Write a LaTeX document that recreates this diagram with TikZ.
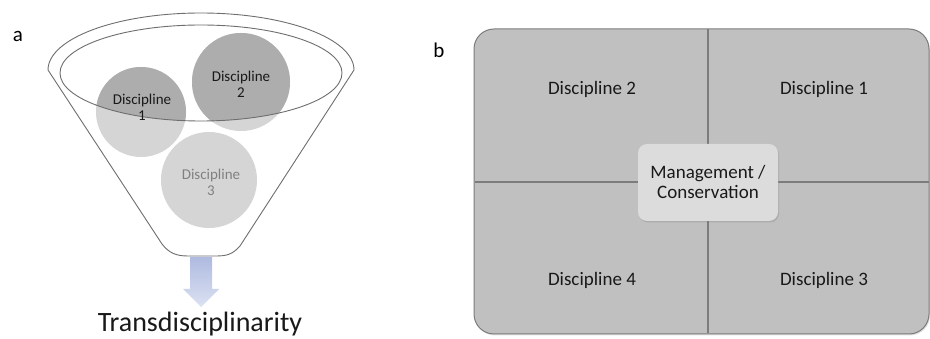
\documentclass[tikz,border=0pt]{standalone}
\usepackage{fontspec}
\setmainfont{Carlito}
\usetikzlibrary{shadows}
\definecolor{edge}{HTML}{6E6E6E}
\definecolor{lightdisc}{HTML}{D5D5D5}
\definecolor{darkdisc}{HTML}{ADADAD}
\definecolor{panel}{HTML}{C0C0C0}
\definecolor{panelborder}{HTML}{7C7C7C}
\definecolor{centerfill}{HTML}{DCDCDC}
\definecolor{arrowtop}{HTML}{AEBAE0}
\definecolor{arrowbot}{HTML}{DCE2F2}
\tikzset{
  disc/.style={circle,inner sep=0pt,minimum size=#1,fill=lightdisc},
  disclabel/.style={align=center,font=\fontsize{15}{16}\selectfont,text=black!90,inner sep=0pt},
  quadlabel/.style={anchor=base,font=\fontsize{19}{21}\selectfont,text=black!90,inner sep=0pt},
  panellabel/.style={anchor=base,font=\fontsize{21}{24}\selectfont,inner sep=0pt},
  divider/.style={draw=panelborder,line width=1.1pt},
}
\begin{document}
\begin{tikzpicture}[x=1pt,y=-1pt]
\useasboundingbox (0,0) rectangle (930,339);

% ---------- panel a ----------
\node[panellabel] (la) at (18,42) {a};

% funnel body
\path[fill=white,draw=edge,line width=0.9pt]
  (48,70) arc[start angle=180,end angle=360,x radius=153,y radius=57]
  -- (240,246) .. controls (232,255) and (226,256) .. (215,256)
  -- (188,256) .. controls (176,256) and (169,253) .. (162,244) -- cycle;

% discs (light parts)
\node[disc=90pt] (d1) at (141,112) {};
\node[disc=98pt] (d2) at (241,82) {};
\node[disc=96pt] (d3) at (209,180) {};

% darker parts inside the inner ellipse
\begin{scope}
  \clip (201,73) ellipse [x radius=141, y radius=48];
  \fill[darkdisc] (141,112) circle[radius=45];
  \fill[darkdisc] (241,82) circle[radius=49];
\end{scope}
\draw[edge,line width=0.9pt] (201,73) ellipse [x radius=141, y radius=48];

\node[disclabel] (t1) at (142,107) {Discipline\\1};
\node[disclabel] (t2) at (241,84) {Discipline\\2};
\node[disclabel,text=black!50] (t3) at (211,182) {Discipline\\3};

% arrow
\path[top color=arrowtop,bottom color=arrowbot]
  (190,257) -- (212,257) -- (212,289) -- (219,289) -- (201,307)
  -- (183,289) -- (190,289) -- cycle;
\node[anchor=base,font=\fontsize{28}{32}\selectfont,inner sep=0pt,text=black!90] (trans) at (200,331) {Transdisciplinarity};

% ---------- panel b ----------
\node[panellabel] (lb) at (439,58) {b};

\node[rectangle,rounded corners=20pt,fill=panel,draw=panelborder,line width=1pt,
      minimum width=455pt,minimum height=305pt,inner sep=0pt,
      drop shadow={shadow xshift=1pt,shadow yshift=-1.5pt,opacity=0.25}] (big) at (701.5,181.5) {};

\coordinate (vtop) at (708,29.5);
\coordinate (vbot) at (708,333.5);
\coordinate (hleft) at (474.5,182);
\coordinate (hright) at (928.5,182);
\draw[divider] (vtop) -- (vbot);
\draw[divider] (hleft) -- (hright);

\node[rectangle,rounded corners=9pt,fill=centerfill,minimum width=140pt,minimum height=77pt,inner sep=0pt,
      drop shadow={shadow xshift=1pt,shadow yshift=-1.5pt,opacity=0.3}] (mc) at (708,182.5) {};
\node[align=center,font=\fontsize{19}{20}\selectfont,text=black!90,inner sep=0pt] (mctext) at (708,182) {Management /\\Conservation};

\node[quadlabel] (q2) at (592,95) {Discipline 2};
\node[quadlabel] (q1) at (824,95) {Discipline 1};
\node[quadlabel] (q4) at (592,286) {Discipline 4};
\node[quadlabel] (q3) at (824,286) {Discipline 3};
\end{tikzpicture}
\end{document}
